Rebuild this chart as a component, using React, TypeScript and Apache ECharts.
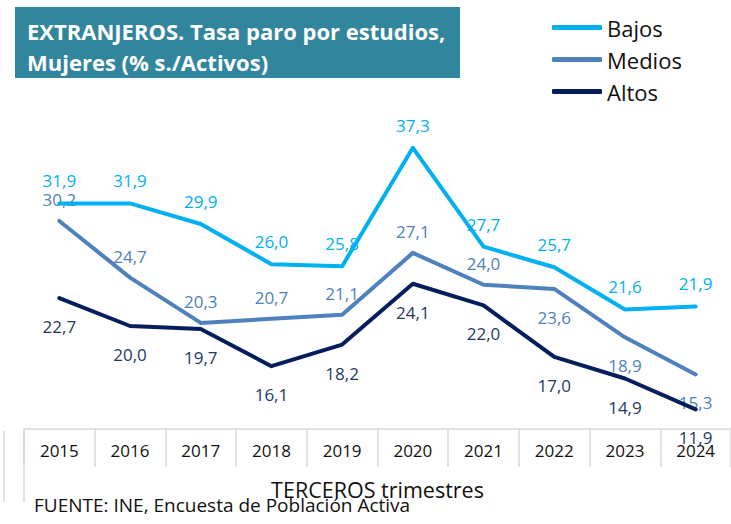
import React, { useEffect, useRef } from "react";
import * as echarts from "echarts";

const YEARS = ["2015", "2016", "2017", "2018", "2019", "2020", "2021", "2022", "2023", "2024"];
const BAJOS = [31.9, 31.9, 29.9, 26.0, 25.8, 37.3, 27.7, 25.7, 21.6, 21.9];
const MEDIOS = [30.2, 24.7, 20.3, 20.7, 21.1, 27.1, 24.0, 23.6, 18.9, 15.3];
const ALTOS = [22.7, 20.0, 19.7, 16.1, 18.2, 24.1, 22.0, 17.0, 14.9, 11.9];
const MEDIOS_LABEL_BELOW = ["2022", "2023", "2024"];

const TITLE_LINES = ["EXTRANJEROS. Tasa paro por estudios,", "Mujeres (% s./Activos)"];
const AXIS_NAME = "TERCEROS trimestres";
const SOURCE = "FUENTE: INE, Encuesta de Población Activa";

const FONT = "'Open Sans', Lato, sans-serif";
const C_BAJOS = "#00B0F0";
const C_MEDIOS = "#4F81BD";
const C_ALTOS = "#041E5C";
const C_ALTOS_LABEL = "#1F3864";
const GRID_GRAY = "#D9D9D9";

const fmt = (p: any) => Number(p.value).toFixed(1).replace(".", ",");

export default function App() {
  const ref = useRef<HTMLDivElement>(null);
  useEffect(() => {
    if (!ref.current) return;
    const chart = echarts.init(ref.current, null, { renderer: "svg" });
    const mkLabel = (color: string, position: string, distance: number) => ({
      show: true,
      position,
      distance,
      color,
      fontFamily: FONT,
      fontSize: 17,
      formatter: fmt,
    });
    const mediosData = MEDIOS.map((v, i) =>
      MEDIOS_LABEL_BELOW.includes(YEARS[i])
        ? { value: v, label: { position: "bottom", distance: 20 } }
        : { value: v }
    );
    const lineSeries = (name: string, data: any[], color: string, label: any, z: number) => ({
      name,
      type: "line",
      data,
      symbol: "circle",
      symbolSize: 0.1,
      showSymbol: true,
      lineStyle: { color, width: 4, cap: "round", join: "round" },
      itemStyle: { color },
      label,
      emphasis: { disabled: true },
      z,
    });
    chart.setOption({
      animation: false,
      textStyle: { fontFamily: FONT },
      grid: { left: 24, width: 711, top: 120, height: 309, containLabel: false },
      legend: {
        orient: "vertical",
        left: 547,
        top: 8,
        icon: "roundRect",
        itemWidth: 50,
        itemHeight: 5,
        itemGap: 3,
        textStyle: { fontFamily: FONT, fontSize: 22, color: "#111", lineHeight: 29 },
        data: ["Bajos", "Medios", "Altos"],
      },
      xAxis: {
        type: "category",
        data: YEARS,
        boundaryGap: true,
        axisLine: { show: true, lineStyle: { color: GRID_GRAY, width: 1.5 } },
        axisTick: { show: true, length: 38, interval: 0, alignWithLabel: false, lineStyle: { color: GRID_GRAY, width: 1.5 } },
        axisLabel: { color: "#111", fontFamily: FONT, fontSize: 17, margin: 13, interval: 0 },
        name: AXIS_NAME,
        nameLocation: "middle",
        nameGap: 49,
        nameTextStyle: { color: "#111", fontFamily: FONT, fontSize: 21.5 },
      },
      yAxis: { type: "value", min: 10, max: 40, show: false, splitLine: { show: false } },
      series: [
        lineSeries("Bajos", BAJOS, C_BAJOS, mkLabel(C_BAJOS, "top", 14), 3),
        lineSeries("Medios", mediosData, C_MEDIOS, mkLabel(C_MEDIOS, "top", 13), 2),
        lineSeries("Altos", ALTOS, C_ALTOS, mkLabel(C_ALTOS_LABEL, "bottom", 20), 4),
      ],
      graphic: [
        { type: "rect", left: 15, top: 7, shape: { width: 445, height: 71 }, style: { fill: "#31859C" }, z: 10 },
        {
          type: "text",
          left: 27,
          top: 15,
          z: 11,
          style: {
            text: TITLE_LINES.join("\n"),
            fill: "#fff",
            font: `bold 22px ${FONT}`,
            lineHeight: 31,
          },
        },
        { type: "line", shape: { x1: 24, y1: 429, x2: 24, y2: 502 }, style: { stroke: GRID_GRAY, lineWidth: 1.5 } },
        { type: "line", shape: { x1: 4, y1: 431, x2: 4, y2: 502 }, style: { stroke: GRID_GRAY, lineWidth: 1.5 } },
        {
          type: "text",
          left: 34,
          top: 495,
          z: 11,
          style: { text: SOURCE, fill: "#111", font: `19px ${FONT}` },
        },
      ],
    });
    return () => chart.dispose();
  }, []);
  return <div ref={ref} style={{ width: 731, height: 524, position: "absolute", left: 0, top: 0 }} />;
}
